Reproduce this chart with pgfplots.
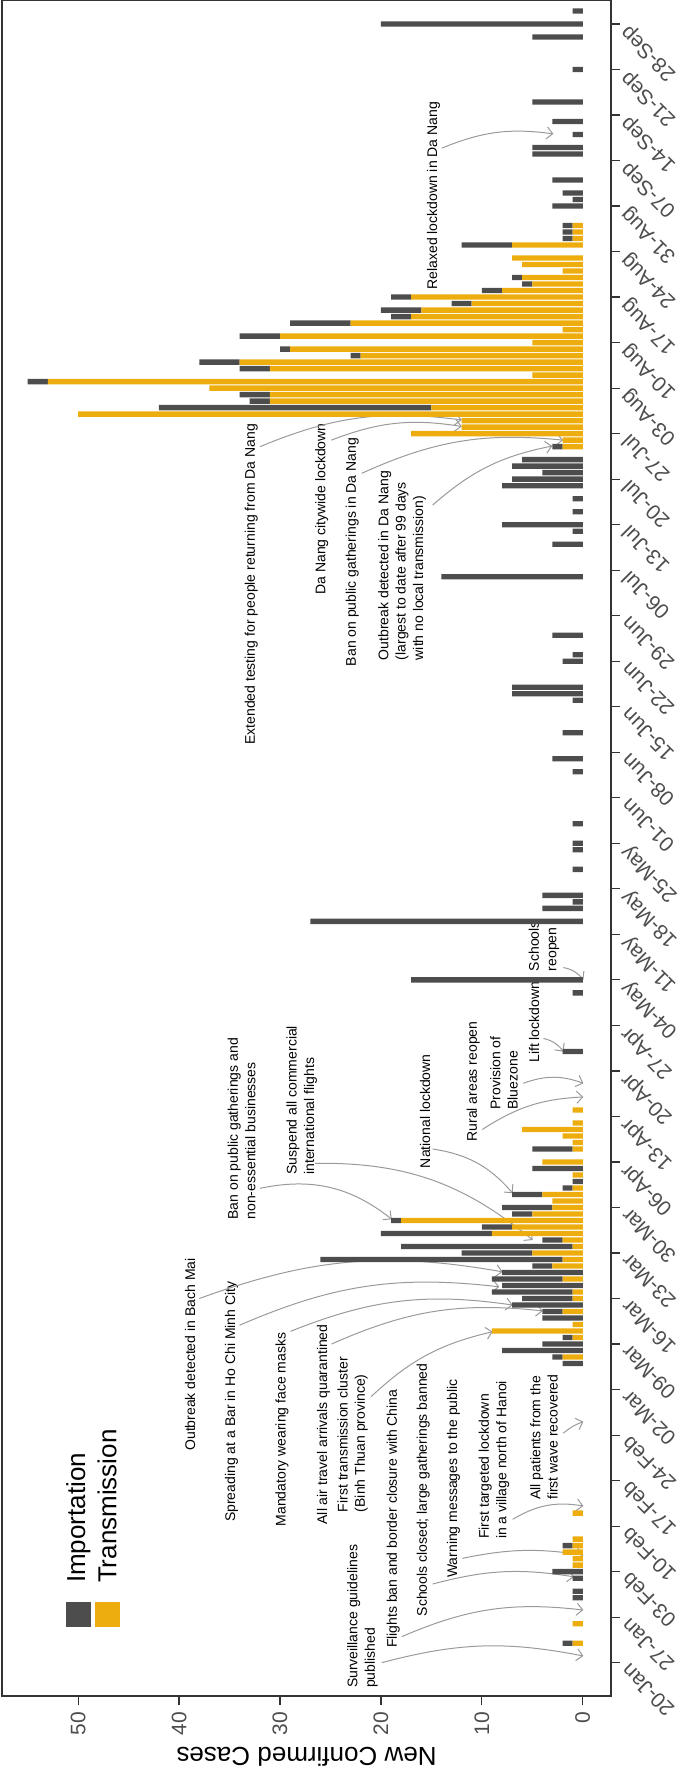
\documentclass[border=0pt]{standalone}
\usepackage{pgfplots}
\pgfplotsset{compat=1.18}
\usepackage{pgfplotstable}
\usepackage{fontspec}
\setmainfont{Liberation Sans}
\usetikzlibrary{arrows.meta}
\definecolor{impcol}{HTML}{4D4D4D}
\definecolor{trcol}{HTML}{EEAD0E}
\definecolor{arrcol}{HTML}{9A9A9A}
\definecolor{framecol}{HTML}{333333}
\definecolor{tickcol}{HTML}{4D4D4D}

% day (0 = 20-Jan), transmission, importation
\pgfplotstableread{
d T I
3 1 1
6 1 0
10 0 1
11 0 1
13 0 1
14 0 3
15 1 0
16 1 0
17 2 0
18 1 1
19 1 0
23 1 0
46 0 2
47 2 1
48 0 8
49 0 4
50 1 1
51 9 0
52 1 0
53 0 4
54 2 2
55 0 7
56 1 5
57 1 8
58 0 8
59 2 7
60 0 8
61 3 2
62 2 24
63 5 7
64 1 17
65 2 2
66 9 11
67 7 3
68 18 1
69 5 2
70 3 5
71 3 0
72 4 3
73 1 1
74 0 1
75 1 0
76 0 5
77 4 0
79 1 4
80 1 0
81 2 0
82 6 0
83 1 0
85 1 0
94 0 2
103 0 1
105 0 17
114 0 27
116 0 4
117 0 1
118 0 4
122 0 1
125 0 1
126 0 1
129 0 1
137 0 1
139 0 3
143 0 2
148 0 1
149 0 7
150 0 7
154 0 2
155 0 1
158 0 3
167 0 14
172 0 3
174 0 1
175 0 8
177 0 1
179 0 1
181 0 8
182 0 7
183 0 4
184 0 7
185 0 6
187 2 1
188 2 0
189 17 0
190 12 0
191 12 0
192 50 0
193 15 27
194 31 2
195 31 3
196 37 0
197 53 2
198 5 0
199 31 3
200 34 4
201 22 1
202 29 1
203 5 0
204 30 4
205 2 0
206 23 6
207 17 2
208 16 4
209 11 2
210 17 2
211 8 2
212 5 1
213 6 1
214 2 0
215 6 0
216 7 0
218 7 5
219 1 1
220 1 1
221 1 1
224 0 3
225 0 1
226 0 2
228 0 3
232 0 5
233 0 5
235 0 1
237 0 3
240 0 5
245 0 1
250 0 5
252 0 20
254 0 1
}\cases

\begin{document}
\begin{tikzpicture}[
  ann/.style={rotate=90, anchor=west, inner sep=0pt, align=left,
    font=\fontsize{7}{8.7}\selectfont},
  arr/.style={draw=arrcol, line width=0.5pt,
    -{Straight Barb[length=3pt,width=6pt]}}
]
\begin{axis}[
  name=ax,
  scale only axis,
  width=304.5pt, height=847.65pt,
  xbar stacked,
  bar width=0.82,
  x dir=reverse,
  xmin=-2.8, xmax=57.55,
  ymin=-5.12, ymax=255.58,
  xtick={0,10,...,50},
  ytick={0,7,...,252},
  yticklabels={20-Jan,27-Jan,03-Feb,10-Feb,17-Feb,24-Feb,02-Mar,09-Mar,
    16-Mar,23-Mar,30-Mar,06-Apr,13-Apr,20-Apr,27-Apr,04-May,11-May,18-May,
    25-May,01-Jun,08-Jun,15-Jun,22-Jun,29-Jun,06-Jul,13-Jul,20-Jul,27-Jul,
    03-Aug,10-Aug,17-Aug,24-Aug,31-Aug,07-Sep,14-Sep,21-Sep,28-Sep},
  xtick pos=left,
  ytick pos=right,
  yticklabel pos=right,
  tick align=outside,
  major tick length=4.5pt,
  minor tick num=0,
  clip=false,
  axis line style={draw=framecol, line width=0.6pt},
  tick style={draw=framecol, line width=0.6pt},
  /pgf/number format/assume math mode=true,
  xticklabel style={rotate=90, anchor=east, text=tickcol,
    font=\fontsize{10.5}{12}\selectfont},
  yticklabel style={rotate=135, anchor=east, text=tickcol,
    font=\fontsize{10.5}{12}\selectfont},
  xlabel={New Confirmed Cases},
  xlabel style={at={(axis description cs:0.5,0)}, anchor=center,
    yshift=-30.5pt, rotate=180, font=\fontsize{13}{15}\selectfont},
]
\addplot[fill=trcol, draw=none] table[x=T, y=d] {\cases};
\addplot[fill=impcol, draw=none] table[x=I, y=d] {\cases};

% legend
\node[fill=impcol, minimum size=12.6pt, inner sep=0pt] at (axis cs:49.99,7.37) {};
\node[fill=trcol, minimum size=12.6pt, inner sep=0pt] at (axis cs:47.13,7.37) {};
\node[rotate=90, anchor=west, inner sep=0pt, font=\fontsize{13}{15}\selectfont]
  at (axis cs:49.99,12.2) {Importation};
\node[rotate=90, anchor=west, inner sep=0pt, font=\fontsize{13}{15}\selectfont]
  at (axis cs:47.13,12.2) {Transmission};

% annotations
\node[ann] at (axis cs:21.82,-3.94) {Surveillance guidelines\\published};
\draw[arr] (axis cs:19.92,0) to[bend left=13] (axis cs:-0.06,1.03);
\node[ann] at (axis cs:18.77,2.21) {Flights ban and border closure with China};
\draw[arr] (axis cs:17.94,4.0) to[bend left=15] (axis cs:-0.06,8.1);
\node[ann] at (axis cs:15.8,7.07) {Schools closed; large gatherings banned};
\draw[arr] (axis cs:14.87,12.1) to[bend left=12] (axis cs:0.86,13.2);
\node[ann] at (axis cs:12.82,12.98) {Warning messages to the public};
\draw[arr] (axis cs:11.93,16.05) to[bend left=10] (axis cs:-0.06,16.56);
\node[ann] at (axis cs:8.79,18.98) {First targeted lockdown\\in a village north of Hanoi};
\draw[arr] (axis cs:6.94,22.05) to[bend left=20] (axis cs:-0.06,24.1);
\node[ann] at (axis cs:3.84,25.0) {All patients from the\\first wave recovered};
\draw[arr] (axis cs:1.92,35.3) to[bend left=10] (axis cs:-0.06,37.06);
\node[ann] at (axis cs:22.8,23.1) {First transmission cluster\\(Binh Thuan province)};
\draw[arr] (axis cs:20.98,40.9) to[bend left=15] (axis cs:8.92,50.9);
\node[ann] at (axis cs:25.7,21.2) {All air travel arrivals quarantined};
\draw[arr] (axis cs:24.9,49.0) to[bend left=15] (axis cs:3.96,54.1);
\node[ann] at (axis cs:29.8,20.9) {Mandatory wearing face masks};
\draw[arr] (axis cs:28.96,50.96) to[bend left=15] (axis cs:6.94,55.0);
\node[ann] at (axis cs:38.9,32.55) {Outbreak detected in Bach Mai};
\draw[arr] (axis cs:38.0,56.0) to[bend left=15] (axis cs:7.93,60.1);
\node[ann] at (axis cs:34.8,21.6) {Spreading at a Bar in Ho Chi Minh City};
\draw[arr] (axis cs:34.0,51.9) to[bend left=15] (axis cs:8.27,57.8);
\node[ann] at (axis cs:33.8,68.1) {Ban on public gatherings and\\non-essential businesses};
\draw[arr] (axis cs:31.98,72.95) to[bend left=25] (axis cs:18.93,68.2);
\node[ann] at (axis cs:27.85,75.0) {Suspend all commercial\\international flights};
\draw[arr] (axis cs:26.53,76.8) to[bend left=20] (axis cs:4.96,65.0);
\node[ann] at (axis cs:15.63,76.0) {National lockdown};
\draw[arr] (axis cs:14.87,79.0) to[bend left=20] (axis cs:6.94,72.2);
\node[ann] at (axis cs:10.84,80.1) {Rural areas reopen};
\draw[arr] (axis cs:9.95,82.0) to[bend left=15] (axis cs:-0.06,87.0);
\node[ann] at (axis cs:7.8,85.0) {Provision of\\Bluezone};
\draw[arr] (axis cs:5.89,89.1) to[bend left=20] (axis cs:-0.06,89.1);
\node[ann] at (axis cs:4.83,92.2) {Lift lockdown};
\draw[arr] (axis cs:3.9,96.0) to[bend left=20] (axis cs:1.92,93.96);
\node[ann] at (axis cs:3.84,106.3) {Schools\\reopen};
\draw[arr] (axis cs:1.92,106.9) to[bend left=20] (axis cs:-0.06,105);
\node[ann] at (axis cs:32.84,141.1) {Extended testing for people returning from Da Nang};
\draw[arr] (axis cs:31.98,187.0) to[bend left=15] (axis cs:11.99,191.1);
\node[ann] at (axis cs:25.87,164.2) {Da Nang citywide lockdown};
\draw[arr] (axis cs:24.92,188.0) to[bend left=15] (axis cs:11.99,190.1);
\node[ann] at (axis cs:22.84,153.2) {Ban on public gatherings in Da Nang};
\draw[arr] (axis cs:21.9,182.9) to[bend left=15] (axis cs:1.95,188.0);
\node[ann] at (axis cs:17.9,154.1) {Outbreak detected in Da Nang\\(largest to date after 99 days\\with no local transmission)};
\draw[arr] (axis cs:14.88,178.0) to[bend left=15] (axis cs:3.02,187.1);
\node[ann] at (axis cs:14.8,211.1) {Relaxed lockdown in Da Nang};
\draw[arr] (axis cs:13.97,232.9) to[bend left=15] (axis cs:2.91,235.1);
\end{axis}
\pgfresetboundingbox
\path[use as bounding box] ([xshift=-1pt,yshift=-37pt]ax.south west)
  rectangle ([xshift=35.5pt,yshift=0.35pt]ax.north east);
\end{tikzpicture}
\end{document}
